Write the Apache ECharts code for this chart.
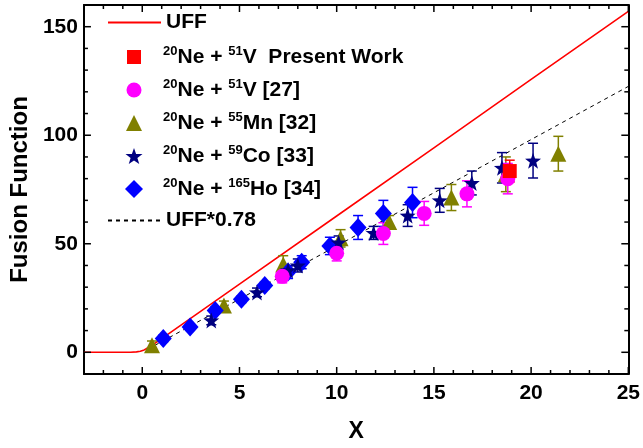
<!DOCTYPE html>
<html>
<head>
<meta charset="utf-8">
<script src="https://cdn.jsdelivr.net/npm/echarts@6/dist/echarts.min.js"></script>
<style>
  html, body { margin: 0; padding: 0; background: #fff; }
  #chart1 { width: 643px; height: 448px; }
</style>
</head>
<body>
<div id="chart1"></div>
<script>
// curves
var uffX = [-3, -1, -0.6, -0.3, -0.1, 0, 0.1, 0.25, 0.5, 1, 5, 10, 15, 20, 25];
var uffY = [0, 0, 0.05, 0.2, 0.5, 0.7, 1.1, 1.9, 3.2, 6.3, 31.4, 62.8, 94.2, 125.7, 157.1];
var uff78X = [0.3, 0.5, 1, 5, 10, 15, 20, 25];
var uff78Y = [1.5, 2.5, 4.9, 24.5, 49, 73.5, 98, 122.5];

// present work
var pwX = [18.9];
var pwY = [83.5];
var pwErr = [5];

// 20Ne + 51V [27]
var vX = [7.2, 10.0, 12.4, 14.5, 16.7, 18.8];
var vY = [35, 45.6, 54.7, 64, 73, 80];
var vErr = [3, 3.5, 5, 5.5, 6, 7];

// 20Ne + 55Mn [32]
var mnX = [0.5, 4.2, 7.25, 10.2, 12.7, 15.9, 18.7, 21.4];
var mnY = [3.2, 21.6, 40.5, 52.5, 60, 71.3, 82, 91.5];
var mnErr = [2, 2, 4, 4, 3, 6, 8, 8];

// 20Ne + 59Co [33]
var coX = [3.55, 5.9, 7.5, 8.0, 10.1, 11.9, 13.65, 15.3, 16.95, 18.5, 20.1];
var coY = [14.7, 27.6, 37.8, 40, 50.6, 55, 63, 70, 78, 85, 88.3];
var coErr = [2, 2, 2, 3, 3, 3, 5, 5.5, 5.5, 7, 8];

// 20Ne + 165Ho [34]
var hoX = [1.08, 2.46, 3.75, 5.1, 6.3, 7.5, 8.2, 9.65, 11.1, 12.4, 13.9];
var hoY = [6.4, 11.6, 19.3, 24.4, 30.8, 37, 41.5, 49, 57.5, 64, 69];
var hoErr = [1.5, 1.5, 1.5, 1.5, 1.5, 3, 3, 4, 5.5, 6, 7];

// tick labels / tick marks
var xMajor = [0, 5, 10, 15, 20, 25];
var yMajor = [0, 50, 100, 150];
var xMinor = [-3, -2, -1, 1, 2, 3, 4, 6, 7, 8, 9, 11, 12, 13, 14, 16, 17, 18, 19, 21, 22, 23, 24];
var yMinor = [-10, 10, 20, 30, 40, 60, 70, 80, 90, 110, 120, 130, 140, 160];

var X_MIN = -3, X_MAX = 25, Y_MIN = -10, Y_MAX = 160;
var FONT = 'Liberation Sans, Arial, sans-serif';

function pairs(xs, ys) {
    var out = [];
    for (var k = 0; k < xs.length; k++) out.push([xs[k], ys[k]]);
    return out;
}
function triples(xs, ys, es) {
    var out = [];
    for (var k = 0; k < xs.length; k++) out.push([xs[k], ys[k], es[k]]);
    return out;
}

function errBars(color, xs, ys, es) {
    return {
        type: 'custom',
        z: 3,
        silent: true,
        data: triples(xs, ys, es),
        encode: {x: 0, y: 1},
        renderItem: function (params, api) {
            var x = api.value(0), y = api.value(1), e = api.value(2);
            var hi = api.coord([x, y + e]);
            var lo = api.coord([x, y - e]);
            var w = 5;
            var st = {stroke: color, lineWidth: 1.5};
            return {
                type: 'group',
                children: [
                    {type: 'line', shape: {x1: hi[0], y1: hi[1], x2: lo[0], y2: lo[1]}, style: st},
                    {type: 'line', shape: {x1: hi[0] - w, y1: hi[1], x2: hi[0] + w, y2: hi[1]}, style: st},
                    {type: 'line', shape: {x1: lo[0] - w, y1: lo[1], x2: lo[0] + w, y2: lo[1]}, style: st}
                ]
            };
        }
    };
}

var starPath = 'path://M0,-10 L2.35,-3.24 L9.51,-3.09 L3.8,1.24 L5.88,8.09 L0,4 L-5.88,8.09 L-3.8,1.24 L-9.51,-3.09 L-2.35,-3.24 Z';

function dots(name, color, symbol, size, xs, ys) {
    return {
        name: name,
        type: 'scatter',
        z: 4,
        symbol: symbol,
        symbolSize: size,
        itemStyle: {color: color, opacity: 1},
        data: pairs(xs, ys)
    };
}

var names = ['UFF', 'pw', 'v', 'mn', 'co', 'ho', 'uff78'];
var labels = {
    'UFF': '{m|UFF}',
    'pw': '{g|}{s|20}{m|Ne + }{s|51}{m|V  Present Work}',
    'v': '{g|}{s|20}{m|Ne + }{s|51}{m|V [27]}',
    'mn': '{g|}{s|20}{m|Ne + }{s|55}{m|Mn [32]}',
    'co': '{g|}{s|20}{m|Ne + }{s|59}{m|Co [33]}',
    'ho': '{g|}{s|20}{m|Ne + }{s|165}{m|Ho [34]}',
    'uff78': '{m|UFF*0.78}'
};
var legendCenters = [24, 57, 90, 123, 156, 189, 222];
var iconSizes = [16, 14, 15, 16, 17, 18, 16];
var isLine = [true, false, false, false, false, false, true];

var legends = [];
names.forEach(function (n, idx) {
    var w = isLine[idx] ? 53 : iconSizes[idx];
    var h = isLine[idx] ? 16 : iconSizes[idx];
    var lg = {
        data: [n],
        left: isLine[idx] ? 107 : 134 - w / 2,
        top: legendCenters[idx] - 12,
        padding: 0,
        itemWidth: w,
        itemHeight: h,
        selectedMode: false,
        formatter: function (name) { return labels[name]; },
        textStyle: {
            rich: {
                g: {width: 163 - (134 + w / 2) - 5, height: 1},
                m: {fontSize: 21, fontWeight: 'bold', fontFamily: FONT, color: '#000', lineHeight: 24},
                s: {fontSize: 13, fontWeight: 'bold', fontFamily: FONT, color: '#000', verticalAlign: 'top', lineHeight: 24}
            }
        }
    };
    if (isLine[idx]) lg.itemStyle = {color: 'rgba(0,0,0,0)', borderWidth: 0, opacity: 0};
    legends.push(lg);
});

function xAx(pos, withLabel) {
    var ax = {
        type: 'value', min: X_MIN, max: X_MAX, position: pos,
        axisLine: {show: true, onZero: false, lineStyle: {color: '#000', width: 2}},
        axisTick: {show: false},
        axisLabel: {show: withLabel, customValues: xMajor, margin: 9, color: '#000', fontSize: 21, fontWeight: 'bold', fontFamily: FONT},
        splitLine: {show: false}
    };
    if (withLabel) {
        ax.name = 'X';
        ax.nameLocation = 'middle';
        ax.nameGap = 46;
        ax.nameTextStyle = {color: '#000', fontSize: 23, fontWeight: 'bold', fontFamily: FONT};
    }
    return ax;
}
function yAx(pos, withLabel) {
    var ax = {
        type: 'value', min: Y_MIN, max: Y_MAX, position: pos,
        axisLine: {show: true, onZero: false, lineStyle: {color: '#000', width: 2}},
        axisTick: {show: false},
        axisLabel: {show: withLabel, customValues: yMajor, margin: 6, color: '#000', fontSize: 21, fontWeight: 'bold', fontFamily: FONT},
        splitLine: {show: false}
    };
    if (withLabel) {
        ax.name = 'Fusion Function';
        ax.nameLocation = 'middle';
        ax.nameRotate = 90;
        ax.nameGap = 40;
        ax.nameTextStyle = {color: '#000', fontSize: 24, fontWeight: 'bold', fontFamily: FONT};
    }
    return ax;
}

var dom = document.getElementById("chart1");
var myChart = echarts.init(dom);

option = {
    animation: false,
    backgroundColor: '#fff',
    grid: {left: 83, right: 13, top: 5, bottom: 74},
    legend: legends,
    xAxis: [xAx('bottom', true), xAx('top', false)],
    yAxis: [yAx('left', true), yAx('right', false)],
    series: [
        {
            name: 'UFF', type: 'line', symbol: 'none', z: 2,
            lineStyle: {color: '#ff0000', width: 1.6},
            itemStyle: {color: '#ff0000'},
            data: pairs(uffX, uffY)
        },
        {
            name: 'uff78', type: 'line', symbol: 'none', z: 2,
            lineStyle: {color: '#000', width: 1, type: [4, 4]},
            itemStyle: {color: '#000'},
            data: pairs(uff78X, uff78Y)
        },
        errBars('#808000', mnX, mnY, mnErr),
        dots('mn', '#808000', 'triangle', 16, mnX, mnY),
        errBars('#0000ff', hoX, hoY, hoErr),
        dots('ho', '#0000ff', 'diamond', [17, 19], hoX, hoY),
        errBars('#000080', coX, coY, coErr),
        dots('co', '#000080', starPath, 16, coX, coY),
        errBars('#ff00ff', vX, vY, vErr),
        dots('v', '#ff00ff', 'circle', 15, vX, vY),
        errBars('#ff0000', pwX, pwY, pwErr),
        dots('pw', '#ff0000', 'rect', 14, pwX, pwY)
    ]
};

if (option && typeof option === "object") {
    myChart.setOption(option, true);
}

// inward ticks on all four sides, placed through the grid's scales
var ticks = [];
function addTick(val, len, isX) {
    var a, b;
    if (isX) {
        a = myChart.convertToPixel({gridIndex: 0}, [val, Y_MIN]);
        b = myChart.convertToPixel({gridIndex: 0}, [val, Y_MAX]);
        ticks.push({x1: a[0], y1: a[1], x2: a[0], y2: a[1] - len});
        ticks.push({x1: b[0], y1: b[1], x2: b[0], y2: b[1] + len});
    } else {
        a = myChart.convertToPixel({gridIndex: 0}, [X_MIN, val]);
        b = myChart.convertToPixel({gridIndex: 0}, [X_MAX, val]);
        ticks.push({x1: a[0], y1: a[1], x2: a[0] + len, y2: a[1]});
        ticks.push({x1: b[0], y1: b[1], x2: b[0] - len, y2: b[1]});
    }
}
xMajor.forEach(function (v) { addTick(v, 7, true); });
xMinor.forEach(function (v) { addTick(v, 4, true); });
yMajor.forEach(function (v) { addTick(v, 7, false); });
yMinor.forEach(function (v) { addTick(v, 4, false); });

myChart.setOption({
    graphic: [{
        type: 'group',
        z: 100,
        silent: true,
        children: ticks.map(function (t) {
            return {type: 'line', z: 100, shape: t, style: {stroke: '#000', lineWidth: 1.5}};
        })
    }]
});
</script>
</body>
</html>
